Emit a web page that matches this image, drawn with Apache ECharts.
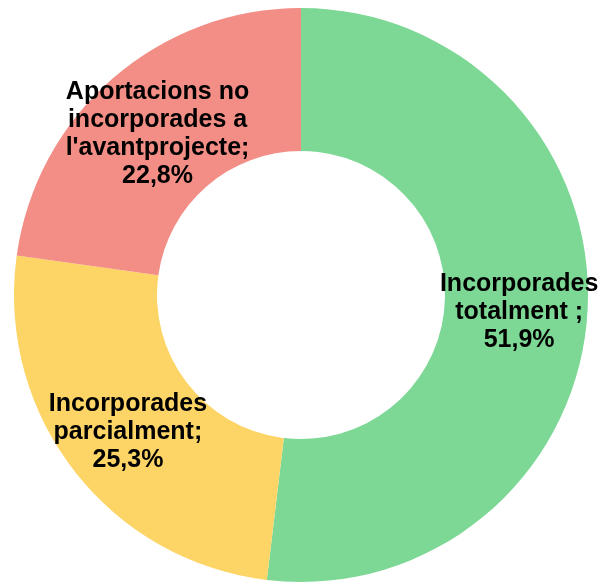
<!DOCTYPE html>
<html>
<head>
<meta charset="utf-8">
<script src="https://cdn.jsdelivr.net/npm/echarts@6/dist/echarts.min.js"></script>
<style>
  html, body { margin: 0; padding: 0; background: #fff; }
  #chart { width: 598px; height: 583px; }
</style>
</head>
<body>
<div id="chart"></div>
<script>
// categories and values (percent)
const categories = ['Incorporades\ntotalment ;', 'Incorporades\nparcialment;', "Aportacions no\nincorporades a\nl'avantprojecte;"];
const values = [51.9, 25.3, 22.8];
const valueLabels = ['51,9%', '25,3%', '22,8%'];
const colors = ['#7dd795', '#fdd567', '#f28e86'];

const chart = echarts.init(document.getElementById('chart'));

chart.setOption({
  animation: false,
  series: [
    {
      type: 'pie',
      center: [301, 295],
      radius: [144, 287],
      startAngle: 90,
      clockwise: true,
      data: categories.map((c, i) => ({
        name: c,
        value: values[i],
        itemStyle: { color: colors[i] }
      })),
      label: {
        show: true,
        position: 'inside',
        formatter: p => p.name + '\n' + valueLabels[p.dataIndex],
        fontFamily: 'Liberation Sans, Arial, sans-serif',
        fontWeight: 'bold',
        fontSize: 25,
        lineHeight: 28,
        color: '#000',
        align: 'center'
      },
      labelLayout: { dy: 4 },
      labelLine: { show: false },
      emphasis: { disabled: true }
    }
  ]
});
</script>
</body>
</html>
